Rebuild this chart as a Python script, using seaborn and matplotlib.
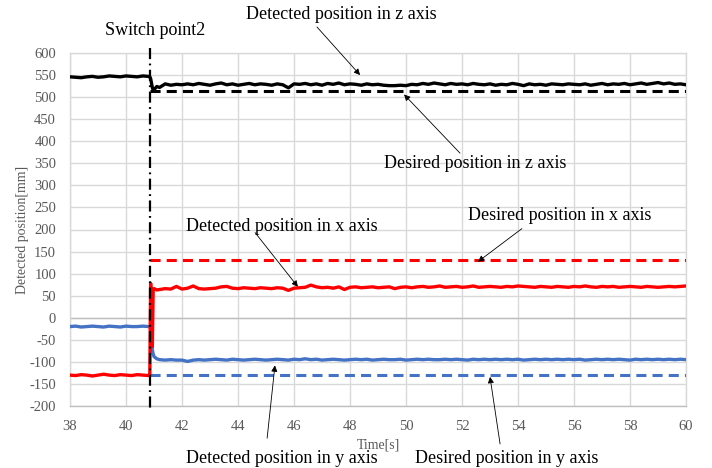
import numpy as np
import pandas as pd
import matplotlib
matplotlib.use("Agg")
import matplotlib.pyplot as plt
import seaborn as sns

# ---------------- data ----------------
time_pre = [38.0, 38.2, 38.4, 38.6, 38.8, 39.0, 39.2, 39.4, 39.6, 39.8, 40.0, 40.2, 40.4, 40.6, 40.8]
time_switch = [40.85, 40.88, 40.91, 40.94, 40.97, 41.0, 41.1]
time_post = list(np.round(np.arange(41.2, 60.001, 0.2), 1))

z_pre = [546, 545, 544, 546, 547, 545, 546, 548, 547, 546, 548, 547, 546, 548, 547]
z_switch = [546, 542, 532, 522, 516, 517, 524]
z_post = [522, 530, 527, 529, 528, 530, 528, 531, 529, 527,
          530, 532, 528, 530, 527, 529, 531, 528, 530, 529,
          527, 530, 528, 521, 530, 529, 531, 528, 530, 527,
          531, 529, 532, 528, 530, 529, 527, 530, 528, 529,
          527, 526, 526, 527, 526, 529, 528, 531, 529, 532,
          530, 528, 531, 529, 530, 528, 531, 529, 528, 530,
          527, 529, 528, 531, 529, 526, 530, 528, 529, 527,
          530, 529, 528, 530, 529, 528, 530, 527, 529, 531,
          528, 530, 529, 531, 528, 530, 532, 529, 531, 533,
          530, 532, 529, 530, 528]

x_pre = [-130, -131, -129, -130, -132, -130, -128, -130, -131, -129, -130, -131, -129, -130, -131]
x_switch = [-130, 78, 40, -65, 62, 66, 63]
x_post = [64, 66, 65, 71, 65, 67, 72, 66, 65, 66,
          67, 70, 71, 67, 66, 68, 67, 66, 68, 67,
          66, 68, 67, 62, 67, 68, 69, 74, 70, 68,
          69, 67, 70, 64, 69, 70, 68, 69, 70, 68,
          69, 70, 66, 69, 70, 68, 70, 71, 69, 70,
          72, 69, 70, 71, 69, 70, 72, 69, 70, 71,
          70, 69, 71, 70, 72, 71, 70, 69, 71, 70,
          69, 71, 70, 69, 71, 70, 72, 70, 69, 71,
          70, 71, 69, 70, 71, 70, 69, 71, 70, 69,
          70, 71, 70, 71, 72]

y_pre = [-20, -19, -21, -20, -19, -20, -21, -19, -20, -21, -19, -20, -20, -19, -20]
y_switch = [-20, -24, -45, -72, -82, -88, -93]
y_post = [-95, -96, -95, -96, -96, -99, -96, -95, -96, -95,
          -94, -95, -96, -94, -95, -96, -95, -94, -95, -96,
          -95, -94, -95, -96, -94, -95, -93, -95, -94, -96,
          -95, -94, -95, -96, -95, -94, -95, -94, -96, -95,
          -94, -95, -95, -94, -96, -95, -94, -95, -94, -95,
          -95, -94, -95, -94, -95, -96, -94, -95, -94, -95,
          -94, -95, -94, -95, -94, -96, -95, -94, -95, -94,
          -95, -94, -95, -94, -95, -94, -96, -95, -94, -95,
          -94, -95, -94, -95, -96, -94, -95, -94, -95, -94,
          -95, -94, -95, -94, -95]

switch_time = 40.85
desired_time = [40.85, 60.0]
desired_z = 515
desired_x = 130
desired_y = -130

x_ticks = list(range(38, 61, 2))
y_ticks = list(range(-200, 601, 50))

# ---------------- build ----------------
time_all = time_pre + time_switch + time_post
df = pd.DataFrame({
    "t": time_all,
    "z": z_pre + z_switch + z_post,
    "x": x_pre + x_switch + x_post,
    "y": y_pre + y_switch + y_post,
})
des = pd.DataFrame({"t": desired_time,
                    "z": [desired_z] * 2, "x": [desired_x] * 2, "y": [desired_y] * 2})

sns.set_theme(style="white")
plt.rcParams["font.family"] = ["Liberation Serif", "DejaVu Serif"]
plt.rcParams["axes.unicode_minus"] = False

fig = plt.figure(figsize=(7.12, 4.68), dpi=100)
ax = fig.add_axes([70 / 712, 1 - 406 / 468, 616 / 712, 353 / 468])

BLUE = "#4472C4"
RED = "#FF0000"
GRID = "#D9D9D9"

ax.axhline(0, color="#BFBFBF", lw=1.0, zorder=1)

dash = (3.3, 2.0)
sns.lineplot(data=des, x="t", y="z", ax=ax, color="black", lw=2.2, zorder=3).lines[-1].set_dashes(dash)
sns.lineplot(data=des, x="t", y="x", ax=ax, color=RED, lw=2.2, zorder=3).lines[-1].set_dashes(dash)
sns.lineplot(data=des, x="t", y="y", ax=ax, color=BLUE, lw=2.2, zorder=3).lines[-1].set_dashes(dash)

sns.lineplot(data=df, x="t", y="z", ax=ax, color="black", lw=2.4, estimator=None, sort=False, zorder=4)
sns.lineplot(data=df, x="t", y="y", ax=ax, color=BLUE, lw=2.4, estimator=None, sort=False, zorder=4)
sns.lineplot(data=df, x="t", y="x", ax=ax, color=RED, lw=2.4, estimator=None, sort=False, zorder=5)

ax.plot([switch_time, switch_time], [611, -212], color="black", lw=1.6,
        dashes=(5, 2, 0.8, 2), clip_on=False, zorder=6)

ax.set_xlim(38, 60)
ax.set_ylim(-200, 600)
ax.set_xticks(x_ticks)
ax.set_yticks(y_ticks)
ax.grid(True, color=GRID, lw=1.0, zorder=0)
ax.set_axisbelow(True)
for s in ["top", "right", "left"]:
    ax.spines[s].set_color(GRID)
    ax.spines[s].set_linewidth(1.0)
ax.spines["bottom"].set_color("#BFBFBF")
ax.spines["bottom"].set_linewidth(1.0)
ax.tick_params(axis="both", length=0, labelsize=10.5, labelcolor="#595959")
ax.tick_params(axis="x", pad=10)
ax.tick_params(axis="y", pad=10)
ax.set_xlabel("Time[s]", fontsize=10, color="#595959", labelpad=4)
ax.set_ylabel("Detected position[mm]", fontsize=10, color="#595959")
ax.yaxis.set_label_coords(-(70 - 29) / 616, 0.5)

# ---------------- annotations ----------------
fs = 13
def note(txt, tx, ty, tail, head):
    ax.text(tx, ty, txt, fontsize=fs, color="black", ha="center", va="center", clip_on=False)
    if tail is not None:
        ax.annotate("", xy=head, xytext=tail, annotation_clip=False,
                    arrowprops=dict(arrowstyle="-|>", color="black", lw=0.6,
                                    mutation_scale=9, shrinkA=0, shrinkB=0))

note("Switch point2", 41.04, 652, None, None)
note("Detected position in z axis", 47.68, 688, (46.82, 659), (48.36, 550))
note("Desired position in z axis", 52.46, 350, (51.93, 373), (49.93, 506))
note("Detected position in x axis", 45.57, 207, (44.61, 193), (46.14, 70))
note("Desired position in x axis", 55.5, 232, (54.14, 202), (52.57, 127))
note("Detected position in y axis", 45.57, -318, (45.04, -273), (45.32, -108))
note("Desired position in y axis", 53.6, -318, (53.36, -286), (53.0, -134))

fig.savefig("out.png", dpi=100)
